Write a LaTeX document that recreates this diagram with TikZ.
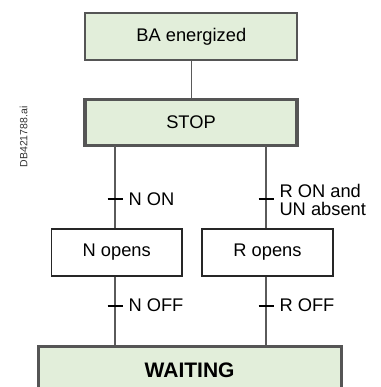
\documentclass[tikz,border=0pt]{standalone}
\usepackage{fontspec}
\setmainfont{Liberation Sans}
\definecolor{boxgreen}{HTML}{E2EEDA}
\definecolor{edgegray}{HTML}{555555}
\definecolor{linegray}{HTML}{5A5A5A}
\begin{document}
\begin{tikzpicture}[x=1pt,y=-1pt,
  greenbox/.style={draw=edgegray,fill=boxgreen,rectangle,inner sep=0pt,text=black,font=\fontsize{18.3}{20}\selectfont},
  whitebox/.style={draw=black!85,fill=white,line width=1.7pt,rectangle,inner sep=0pt,minimum width=130.5pt,minimum height=47pt,font=\fontsize{18.3}{20}\selectfont},
  conn/.style={draw=linegray,line width=1.3pt},
  tick/.style={draw=black,line width=1.8pt},
  lbl/.style={anchor=west,inner sep=0pt,align=left,font=\fontsize{18.3}{18}\selectfont}]
\useasboundingbox (0,0) rectangle (380,387);
\begin{scope}
\clip (0,0) rectangle (380,387);
\node[greenbox,line width=2pt,minimum width=212pt,minimum height=46.4pt] (ba) at (191.3,36.5) {BA energized};
\node[greenbox,line width=3.3pt,minimum width=212pt,minimum height=46pt] (stop) at (191,122.5) {STOP};
\node[whitebox] (nop) at (116.75,252.5) {N opens};
\node[whitebox] (rop) at (267.5,252.5) {R opens};
\node[greenbox,line width=3pt,minimum width=302.7pt,minimum height=60pt,anchor=north] (wait) at (189.65,345) {};
\node[font=\fontsize{21}{24}\selectfont\bfseries,inner sep=0pt] (waitlbl) at (189.65,370) {WAITING};
\end{scope}
\draw[conn] (ba.south) -- (ba.south |- stop.north);
\coordinate (l1) at (115,146);
\coordinate (r1) at (266,146);
\coordinate (l2) at (115,276.5);
\coordinate (r2) at (266,276.5);
\draw[conn] (l1) -- (l1 |- nop.north) coordinate (l1e);
\draw[conn] (r1) -- (r1 |- rop.north) coordinate (r1e);
\draw[conn] (l2) -- (l2 |- wait.north) coordinate (l2e);
\draw[conn] (r2) -- (r2 |- wait.north) coordinate (r2e);
\coordinate (t1) at (115,199);
\coordinate (t2) at (266,199);
\coordinate (t3) at (115,306);
\coordinate (t4) at (266,306);
\foreach \t in {t1,t2,t3,t4} \draw[tick] ([xshift=-7.5pt]\t) -- ([xshift=7.5pt]\t);
\node[lbl] (lnon) at (128.3,199.5) {N ON};
\node[lbl] (lron) at (279.3,199.5) {R ON and\\UN absent};
\node[lbl] (lnoff) at (128.3,305) {N OFF};
\node[lbl] (lroff) at (279.3,305) {R OFF};
\node[rotate=90,text=black!80,inner sep=0pt,font=\fontsize{10.5}{12}\selectfont] (code) at (23.5,137) {DB421788.ai};
\end{tikzpicture}
\end{document}
